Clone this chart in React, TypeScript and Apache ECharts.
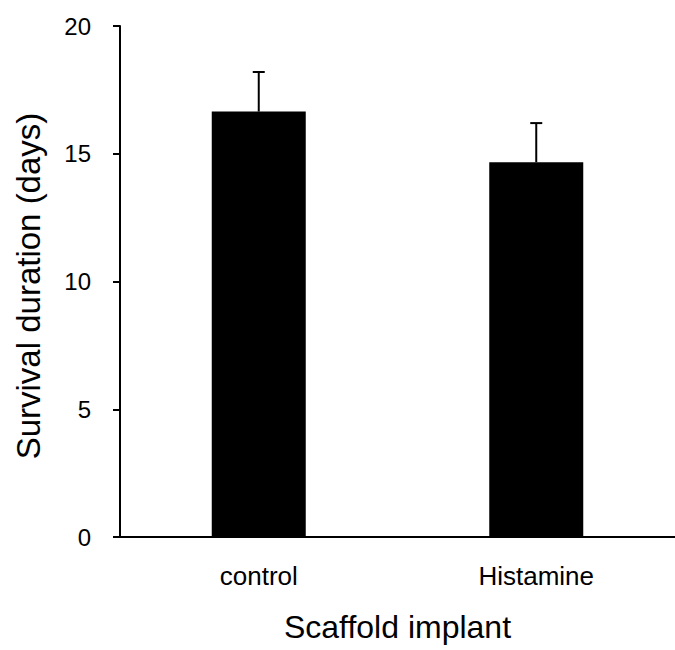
import React, { useEffect, useRef } from "react";
import * as echarts from "echarts";

const categories = ["control", "Histamine"];
const means = [16.65, 14.67];
const errors = [1.55, 1.53];
const yTicks = [0, 5, 10, 15, 20];
const xTitle = "Scaffold implant";
const yTitle = "Survival duration (days)";

export default function App() {
  const ref = useRef<HTMLDivElement>(null);
  useEffect(() => {
    if (!ref.current) return;
    const chart = echarts.init(ref.current, null, { renderer: "svg" });
    const font = "Liberation Sans, Arial, Helvetica, sans-serif";
    chart.setOption({
      animation: false,
      backgroundColor: "#ffffff",
      grid: { left: 120, top: 26, width: 562, height: 511, containLabel: false },
      graphic: [
        {
          type: "text",
          x: 28,
          y: 286,
          rotation: Math.PI / 2,
          style: {
            text: yTitle,
            fontFamily: font,
            fontSize: 33,
            fill: "#000",
            align: "center",
            verticalAlign: "middle",
          },
        },
      ],
      xAxis: {
        type: "category",
        data: categories,
        name: xTitle,
        nameLocation: "middle",
        nameGap: 74,
        nameTextStyle: { fontFamily: font, fontSize: 32, color: "#000" },
        axisLine: { show: true, lineStyle: { color: "#000", width: 2 } },
        axisTick: { show: false },
        axisLabel: { fontFamily: font, fontSize: 26, color: "#000", margin: 26 },
        splitLine: { show: false },
      },
      yAxis: {
        type: "value",
        min: yTicks[0],
        max: yTicks[yTicks.length - 1],
        interval: 5,
        axisLine: { show: true, lineStyle: { color: "#000", width: 2 } },
        axisTick: { show: true, inside: false, length: 7, lineStyle: { color: "#000", width: 2 } },
        axisLabel: { fontFamily: font, fontSize: 24, color: "#000", margin: 29 },
        splitLine: { show: false },
      },
      series: [
        {
          type: "bar",
          data: means,
          barWidth: 94,
          itemStyle: { color: "#000" },
        },
        {
          type: "custom",
          data: means.map((m, i) => [i, m, m + errors[i]]),
          z: 3,
          renderItem: (params: any, api: any) => {
            const x = api.value(0);
            const lo = api.coord([x, api.value(1)]);
            const hi = api.coord([x, api.value(2)]);
            const cap = 6;
            return {
              type: "group",
              children: [
                { type: "line", shape: { x1: lo[0], y1: lo[1], x2: hi[0], y2: hi[1] }, style: { stroke: "#000", lineWidth: 2 } },
                { type: "line", shape: { x1: hi[0] - cap, y1: hi[1], x2: hi[0] + cap, y2: hi[1] }, style: { stroke: "#000", lineWidth: 2 } },
              ],
            };
          },
        },
      ],
    });
    return () => chart.dispose();
  }, []);
  return <div ref={ref} style={{ position: "fixed", left: 0, top: 0, width: 675, height: 650 }} />;
}
